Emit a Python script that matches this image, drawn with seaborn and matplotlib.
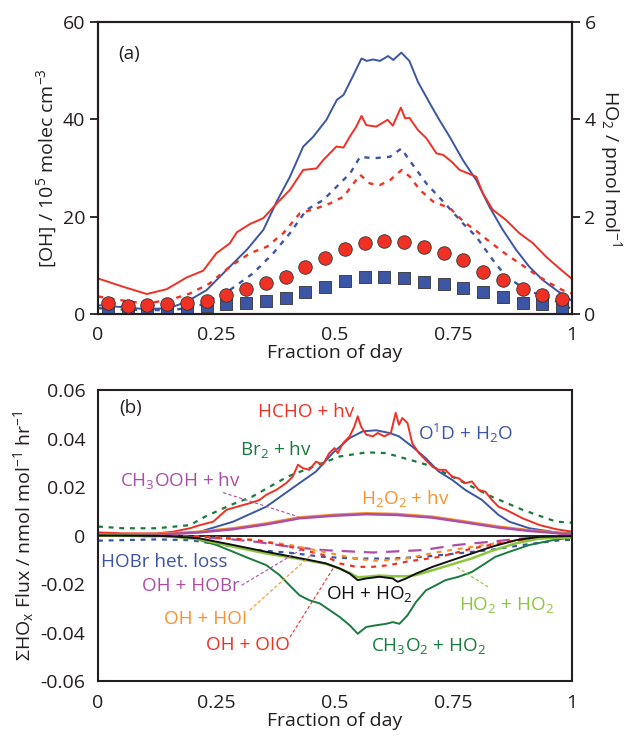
import matplotlib
matplotlib.use("Agg")
import matplotlib.pyplot as plt
import seaborn as sns

# ---------------- Panel (a) data ----------------
# OH model (solid blue), 10^5 molec cm-3
oh_mod_x = [0, 0.053, 0.10, 0.15, 0.187, 0.229, 0.278, 0.314, 0.349, 0.377, 0.405, 0.433, 0.454, 0.482,
            0.504, 0.518, 0.539, 0.556, 0.567, 0.580, 0.595, 0.612, 0.623, 0.640, 0.657, 0.675, 0.700, 0.720,
            0.742, 0.770, 0.798, 0.826, 0.854, 0.882, 0.910, 0.938, 0.967, 1.0]
oh_mod = [1.8, 1.4, 1.0, 1.2, 2.5, 4.9, 9.7, 13.2, 17.3, 23.1, 28.2, 34.4, 36.4, 39.9,
          44.0, 45.0, 49.1, 52.5, 52.0, 52.3, 52.0, 53.0, 52.2, 53.7, 52.0, 47.7, 43.3, 39.9,
          36.4, 31.6, 27.5, 22.0, 17.3, 13.2, 9.7, 7.0, 4.9, 2.7]
# OH alternative (dotted blue)
oh_alt_x = [0, 0.05, 0.10, 0.16, 0.215, 0.278, 0.328, 0.37, 0.405, 0.44, 0.475, 0.504, 0.532, 0.553,
            0.581, 0.616, 0.640, 0.657, 0.693, 0.735, 0.770, 0.798, 0.833, 0.861, 0.903, 0.960, 1.0]
oh_alt = [1.2, 0.9, 0.8, 0.8, 1.8, 4.9, 8.4, 12.5, 16.6, 21.4, 23.4, 26.2, 28.9, 32.3,
          32.0, 32.3, 34.0, 31.6, 26.8, 22.4, 18.6, 15.9, 11.1, 7.7, 5.0, 2.9, 1.0]
# HO2 model (solid red), pmol mol-1
ho2_mod_x = [0, 0.053, 0.103, 0.145, 0.187, 0.222, 0.25, 0.278, 0.293, 0.321, 0.349, 0.377, 0.405, 0.433,
             0.461, 0.475, 0.503, 0.518, 0.531, 0.545, 0.556, 0.566, 0.587, 0.611, 0.622, 0.639, 0.648,
             0.657, 0.675, 0.693, 0.714, 0.728, 0.746, 0.763, 0.798, 0.812, 0.833, 0.861, 0.889, 0.917,
             0.945, 0.973, 1.0]
ho2_mod = [0.73, 0.56, 0.41, 0.51, 0.75, 0.89, 1.25, 1.45, 1.68, 1.85, 1.97, 2.27, 2.55, 2.96,
           2.99, 3.16, 3.44, 3.42, 3.64, 3.85, 4.07, 3.88, 3.85, 3.99, 3.87, 4.24, 4.02,
           4.03, 3.78, 3.61, 3.30, 3.27, 3.13, 2.96, 2.82, 2.48, 2.14, 1.93, 1.66, 1.46,
           1.18, 0.94, 0.72]
# HO2 alternative (dotted red)
ho2_alt_x = [0, 0.07, 0.103, 0.152, 0.194, 0.236, 0.278, 0.321, 0.356, 0.391, 0.426, 0.461, 0.489,
             0.518, 0.539, 0.553, 0.574, 0.595, 0.616, 0.641, 0.658, 0.679, 0.707, 0.743, 0.771,
             0.799, 0.827, 0.862, 0.897, 0.925, 0.954, 0.980, 1.0]
ho2_alt = [0.36, 0.25, 0.22, 0.29, 0.42, 0.63, 0.97, 1.25, 1.38, 1.66, 2.07, 2.17, 2.27,
           2.41, 2.68, 2.86, 2.68, 2.65, 2.75, 2.96, 2.82, 2.55, 2.31, 2.17, 1.90,
           1.70, 1.48, 1.22, 0.99, 0.80, 0.63, 0.49, 0.42]
# Hourly measurements
hour_x = [(h + 0.5) / 24 for h in range(24)]
oh_obs = [1.0, 0.8, 0.8, 1.1, 1.5, 1.7, 2.0, 2.2, 2.7, 3.2, 4.5, 5.5, 6.7, 7.7, 7.6, 7.3,
          6.6, 6.1, 5.4, 4.5, 3.5, 2.3, 2.05, 1.4]
ho2_obs = [0.22, 0.16, 0.18, 0.20, 0.23, 0.27, 0.38, 0.51, 0.63, 0.77, 0.96, 1.15, 1.33, 1.45,
           1.49, 1.47, 1.38, 1.25, 1.11, 0.86, 0.70, 0.52, 0.39, 0.31]

# ---------------- Panel (b) data ----------------
hcho_x = [0, 0.053, 0.124, 0.159, 0.194, 0.215, 0.243, 0.271, 0.299, 0.320, 0.341, 0.355, 0.376, 0.397,
          0.411, 0.422, 0.432, 0.446, 0.46, 0.474, 0.488, 0.499, 0.506, 0.517, 0.531, 0.541, 0.548,
          0.555, 0.566, 0.58, 0.59, 0.604, 0.618, 0.628, 0.635, 0.642, 0.653, 0.663, 0.677, 0.691,
          0.705, 0.719, 0.733, 0.747, 0.761, 0.775, 0.789, 0.803, 0.817, 0.831, 0.845, 0.861, 0.896,
          0.932, 0.967, 1.0]
hcho = [0.0013, 0.0009, 0.0009, 0.0016, 0.003, 0.0043, 0.0057, 0.0106, 0.0122, 0.0133, 0.0147, 0.0168,
        0.0188, 0.0216, 0.0243, 0.0292, 0.0278, 0.0271, 0.0305, 0.0292, 0.034, 0.0361, 0.034, 0.0381,
        0.0409, 0.045, 0.0492, 0.045, 0.0416, 0.0409, 0.0423, 0.0409, 0.0423, 0.0506, 0.0457, 0.0485,
        0.0464, 0.0381, 0.034, 0.0312, 0.0285, 0.0271, 0.0271, 0.0243, 0.0236, 0.0216, 0.0223, 0.0188,
        0.0181, 0.0147, 0.0119, 0.0106, 0.0071, 0.0043, 0.0026, 0.0016]
o1d_x = [0, 0.159, 0.215, 0.285, 0.355, 0.425, 0.46, 0.495, 0.531, 0.559, 0.587, 0.615, 0.635, 0.663,
         0.691, 0.719, 0.747, 0.775, 0.81, 0.845, 0.868, 0.91, 0.967, 1.0]
o1d = [0.0005, 0.0006, 0.0016, 0.0057, 0.0119, 0.0216, 0.0264, 0.034, 0.0402, 0.043, 0.0434, 0.0423,
       0.0409, 0.0367, 0.032, 0.0264, 0.023, 0.0188, 0.0147, 0.0085, 0.0057, 0.003, 0.0013, 0.0009]
br2_x = [0, 0.053, 0.124, 0.194, 0.226, 0.28, 0.325, 0.40, 0.446, 0.51, 0.566, 0.608, 0.671, 0.705,
         0.747, 0.831, 0.896, 0.967, 1.0]
br2 = [0.0037, 0.003, 0.003, 0.0043, 0.0078, 0.0126, 0.016, 0.0243, 0.0278, 0.0326, 0.0343, 0.034,
       0.0305, 0.0285, 0.0243, 0.016, 0.0106, 0.0057, 0.0053]
phot_x = [0, 0.053, 0.124, 0.215, 0.285, 0.355, 0.425, 0.5, 0.566, 0.63, 0.705, 0.775, 0.845, 0.91,
          0.967, 1.0]
h2o2 = [0.0002, 0.0003, 0.0006, 0.0016, 0.003, 0.005, 0.0075, 0.0086, 0.0092, 0.0089, 0.0078, 0.0058,
        0.0037, 0.0022, 0.0012, 0.0005]
ch3ooh = [0.0001, 0.0002, 0.0004, 0.0013, 0.0026, 0.0046, 0.0071, 0.0082, 0.0088, 0.0085, 0.0074,
          0.0054, 0.0033, 0.0019, 0.001, 0.0003]
ch3o2_x = [0, 0.124, 0.194, 0.215, 0.25, 0.285, 0.32, 0.355, 0.383, 0.404, 0.425, 0.446, 0.468, 0.489,
           0.51, 0.531, 0.548, 0.566, 0.587, 0.608, 0.622, 0.636, 0.653, 0.671, 0.692, 0.713, 0.733,
           0.761, 0.789, 0.817, 0.838, 0.868, 0.91, 0.967, 1.0]
ch3o2 = [0, -0.0001, -0.0008, -0.0019, -0.0039, -0.0067, -0.0095, -0.0122, -0.0163, -0.0205, -0.0246,
         -0.0267, -0.028, -0.0308, -0.0336, -0.037, -0.0405, -0.0377, -0.037, -0.0364, -0.0357, -0.0364,
         -0.0329, -0.0274, -0.0226, -0.0205, -0.0184, -0.017, -0.015, -0.0115, -0.0088, -0.0067,
         -0.0039, -0.0016, -0.0009]
ohho2_x = [0, 0.150, 0.215, 0.285, 0.355, 0.411, 0.446, 0.481, 0.51, 0.531, 0.548, 0.566, 0.594, 0.622,
           0.632, 0.65, 0.671, 0.706, 0.748, 0.789, 0.831, 0.882, 0.932, 1.0]
ohho2 = [0, -0.0002, -0.0012, -0.0039, -0.0067, -0.0088, -0.0101, -0.0115, -0.0136, -0.0157, -0.0184,
         -0.0177, -0.017, -0.0177, -0.0191, -0.0177, -0.0157, -0.0129, -0.0101, -0.0074, -0.0046,
         -0.0019, -0.0005, -0.0002]
ho2ho2_x = [0, 0.150, 0.215, 0.285, 0.355, 0.411, 0.446, 0.481, 0.51, 0.531, 0.548, 0.566, 0.594,
            0.622, 0.65, 0.671, 0.706, 0.748, 0.789, 0.831, 0.882, 0.932, 1.0]
ho2ho2 = [0, -0.0003, -0.0016, -0.0046, -0.0074, -0.0092, -0.0104, -0.0117, -0.0136, -0.0154, -0.0172,
          -0.017, -0.0165, -0.0168, -0.0168, -0.0163, -0.0143, -0.0118, -0.0094, -0.0063, -0.0032,
          -0.0012, -0.0008]
ohhobr_x = [0, 0.124, 0.264, 0.334, 0.405, 0.475, 0.58, 0.686, 0.756, 0.826, 0.896, 1.0]
ohhobr = [0, -0.0003, -0.0012, -0.0026, -0.0046, -0.006, -0.007, -0.006, -0.0039, -0.0026, -0.0012,
          -0.0003]
hobrhet_x = [0, 0.124, 0.194, 0.264, 0.334, 0.405, 0.475, 0.545, 0.615, 0.686, 0.756, 0.826, 0.896,
             0.967, 1.0]
hobrhet = [-0.0021, -0.0016, -0.0019, -0.0039, -0.006, -0.0071, -0.0088, -0.0095, -0.0095, -0.0088,
           -0.0074, -0.006, -0.0039, -0.0021, -0.0017]
ohhoi_x = [0, 0.194, 0.334, 0.405, 0.475, 0.545, 0.58, 0.615, 0.65, 0.721, 0.791, 0.861, 0.967, 1.0]
ohhoi = [0, -0.0002, -0.0019, -0.0039, -0.0067, -0.0095, -0.0104, -0.0101, -0.0095, -0.0067, -0.0046,
         -0.0026, -0.0005, -0.0002]
ohoio_x = [0, 0.194, 0.334, 0.405, 0.475, 0.51, 0.545, 0.58, 0.615, 0.65, 0.721, 0.791, 0.861, 0.967,
           1.0]
ohoio = [0, -0.0002, -0.0019, -0.0046, -0.008, -0.0115, -0.0129, -0.0129, -0.0122, -0.0108, -0.0088,
         -0.0053, -0.0026, -0.0005, -0.0002]

x_ticks = [0, 0.25, 0.5, 0.75, 1]
x_ticklabels = ["0", "0.25", "0.5", "0.75", "1"]

# ---------------- style ----------------
sns.set_theme(style="white")
plt.rcParams["font.family"] = ["Open Sans", "DejaVu Sans"]
plt.rcParams["mathtext.fontset"] = "custom"
plt.rcParams["mathtext.rm"] = "Open Sans"
plt.rcParams["mathtext.it"] = "Open Sans:italic"
plt.rcParams["mathtext.bf"] = "Open Sans:bold"
plt.rcParams["axes.linewidth"] = 1.5
plt.rcParams["axes.edgecolor"] = "#231f20"

RED = "#ee3124"
BLUE = "#3c55a5"
DGREEN = "#1b7a3e"
PURPLE = "#ad4ea6"
ORANGE = "#f7922f"
LGREEN = "#8cc63f"
BLACK = "#111111"
TXT = "#231f20"
FS = 13.6
FST = 14

fig = plt.figure(figsize=(6.4, 7.4), dpi=100)
axa = fig.add_axes([0.1531, 0.5757, 0.7406, 0.3946])
axb = fig.add_axes([0.1531, 0.0797, 0.7406, 0.3932])

def style_ax(ax):
    ax.tick_params(direction="out", length=6, width=1.3, labelsize=FST, colors=TXT, pad=3)
    ax.set_xlim(0, 1)
    ax.set_xticks(x_ticks)
    ax.set_xticklabels(x_ticklabels)
    ax.set_xlabel("Fraction of day", fontsize=FST, labelpad=0, color=TXT)

dot = (0, (2.2, 2.6))

# ---- panel a ----
sns.lineplot(x=oh_mod_x, y=oh_mod, ax=axa, color=BLUE, lw=1.4)
sns.lineplot(x=oh_alt_x, y=oh_alt, ax=axa, color=BLUE, lw=1.7, linestyle=dot)
sns.scatterplot(x=hour_x, y=oh_obs, ax=axa, marker="s", s=85, color=BLUE, edgecolor="#333333",
                linewidth=0.6, zorder=5)
axa.set_ylim(0, 60)
axa.set_yticks([0, 20, 40, 60])
style_ax(axa)
axa.set_ylabel("[OH] / 10$\\mathregular{^5}$ molec cm$\\mathregular{^{-3}}$", fontsize=FST, labelpad=3,
               color=TXT)
axa.text(0.042, 53.5, "(a)", fontsize=FS, ha="left", va="center", color=TXT)

axr = axa.twinx()
sns.lineplot(x=ho2_mod_x, y=ho2_mod, ax=axr, color=RED, lw=1.4)
sns.lineplot(x=ho2_alt_x, y=ho2_alt, ax=axr, color=RED, lw=1.7, linestyle=dot)
sns.scatterplot(x=hour_x, y=ho2_obs, ax=axr, marker="o", s=95, color=RED, edgecolor="#333333",
                linewidth=0.6, zorder=6)
axr.set_ylim(0, 6)
axr.set_yticks([0, 2, 4, 6])
axr.tick_params(direction="out", length=6, width=1.3, labelsize=FST, colors=TXT, pad=3)
axr.set_ylabel("HO$\\mathregular{_2}$ / pmol mol$\\mathregular{^{-1}}$", fontsize=FST, rotation=270,
               labelpad=20, color=TXT)
for sp in axr.spines.values():
    sp.set_linewidth(1.5)

# ---- panel b ----
axb.axhline(0, color=BLACK, lw=1.3, zorder=1)
sns.lineplot(x=br2_x, y=br2, ax=axb, color=DGREEN, lw=1.6, linestyle=dot)
sns.lineplot(x=o1d_x, y=o1d, ax=axb, color=BLUE, lw=1.4)
sns.lineplot(x=hcho_x, y=hcho, ax=axb, color=RED, lw=1.4)
sns.lineplot(x=phot_x, y=h2o2, ax=axb, color=ORANGE, lw=1.8)
sns.lineplot(x=phot_x, y=ch3ooh, ax=axb, color=PURPLE, lw=1.8)
sns.lineplot(x=hobrhet_x, y=hobrhet, ax=axb, color=BLUE, lw=1.6, linestyle=dot)
sns.lineplot(x=ohhobr_x, y=ohhobr, ax=axb, color=PURPLE, lw=1.6, linestyle=(0, (6, 4)))
sns.lineplot(x=ohhoi_x, y=ohhoi, ax=axb, color=ORANGE, lw=1.6, linestyle=dot)
sns.lineplot(x=ohoio_x, y=ohoio, ax=axb, color=RED, lw=1.6, linestyle=dot)
sns.lineplot(x=ch3o2_x, y=ch3o2, ax=axb, color=DGREEN, lw=1.4)
sns.lineplot(x=ho2ho2_x, y=ho2ho2, ax=axb, color=LGREEN, lw=1.8)
sns.lineplot(x=ohho2_x, y=ohho2, ax=axb, color=BLACK, lw=1.4)
axb.set_ylim(-0.06, 0.06)
axb.set_yticks([-0.06, -0.04, -0.02, 0, 0.02, 0.04, 0.06])
axb.set_yticklabels(["-0.06", "-0.04", "-0.02", "0", "0.02", "0.04", "0.06"])
style_ax(axb)
axb.set_ylabel("ΣHO$\\mathregular{_x}$ Flux / nmol mol$\\mathregular{^{-1}}$ hr$\\mathregular{^{-1}}$",
               fontsize=FST, labelpad=3, color=TXT)
axb.text(0.045, 0.0525, "(b)", fontsize=FS, ha="left", va="center", color=TXT)

# leader lines
leaders = [((0.264, 0.0177), (0.422, 0.0078), PURPLE),
           ((0.303, -0.0205), (0.433, -0.0053), PURPLE),
           ((0.320, -0.0308), (0.461, -0.006), ORANGE),
           ((0.405, -0.0419), (0.496, -0.0136), RED),
           ((0.823, -0.0212), (0.756, -0.0129), LGREEN)]
for (x0, y0), (x1, y1), c in leaders:
    axb.plot([x0, x1], [y0, y1], color=c, lw=0.8, linestyle=(0, (3, 2)))

labels = [
    (0.438, 0.0508, "HCHO + hv", RED),
    (0.776, 0.0423, "O$\\mathregular{^1}$D + H$\\mathregular{_2}$O", BLUE),
    (0.376, 0.0354, "Br$\\mathregular{_2}$ + hv", DGREEN),
    (0.173, 0.0227, "CH$\\mathregular{_3}$OOH + hv", PURPLE),
    (0.648, 0.0151, "H$\\mathregular{_2}$O$\\mathregular{_2}$ + hv", ORANGE),
    (0.139, -0.0108, "HOBr het. loss", BLUE),
    (0.195, -0.0209, "OH + HOBr", PURPLE),
    (0.228, -0.0343, "OH + HOI", ORANGE),
    (0.317, -0.0453, "OH + OIO", RED),
    (0.573, -0.0242, "OH + HO$\\mathregular{_2}$", BLACK),
    (0.863, -0.0288, "HO$\\mathregular{_2}$ + HO$\\mathregular{_2}$", LGREEN),
    (0.698, -0.0456, "CH$\\mathregular{_3}$O$\\mathregular{_2}$ + HO$\\mathregular{_2}$", DGREEN),
]
for x, y, t, c in labels:
    axb.text(x, y, t, color=c, fontsize=FS, ha="center", va="center")

for ax in (axa, axb):
    for sp in ax.spines.values():
        sp.set_linewidth(1.5)
        sp.set_visible(True)

fig.savefig("out.png", dpi=100)
